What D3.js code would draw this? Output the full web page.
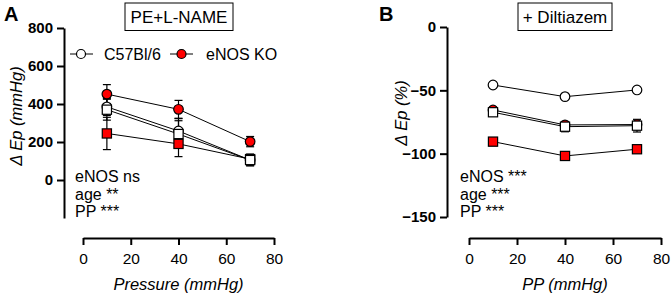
<!DOCTYPE html>
<html>
<head>
<meta charset="utf-8">
<script src="https://cdn.jsdelivr.net/npm/d3@7"></script>
<style>
  body { margin: 0; background: #fff; }
  svg { font-family: "Liberation Sans", Arial, sans-serif; }
  .line { fill: none; stroke: #000; stroke-width: 1; }
  .err { stroke: #000; stroke-width: 1.2; }
</style>
</head>
<body>
<div id="chart"></div>
<script>
// x positions (pressure, mmHg)
var pressures = [10, 40, 70];

// panel A: delta Ep (mmHg), PE + L-NAME
var a_c57_circle = [385, 258, 105];
var a_c57_circle_err = [45, 65, 30];
var a_c57_square = [370, 242, 105];
var a_c57_square_err = [55, 70, 30];
var a_ko_circle = [452, 372, 202];
var a_ko_circle_err = [50, 47, 27];
var a_ko_square = [245, 190, 110];
var a_ko_square_err = [85, 67, 25];

// panel B: delta Ep (%), + diltiazem
var b_c57_circle = [-45.8, -55, -49.7];
var b_c57_circle_err = [1.5, 1.5, 1.5];
var b_c57_square = [-67.3, -78.7, -77.9];
var b_c57_square_err = [2.5, 4, 5];
var b_ko_circle = [-65.5, -77.3, -77];
var b_ko_circle_err = [2, 2, 2];
var b_ko_square = [-90.5, -101.8, -96.5];
var b_ko_square_err = [2, 2, 2];

var xTicks = [0, 20, 40, 60, 80];
var aYTicks = [0, 200, 400, 600, 800];
var bYTicks = [-150, -100, -50, 0];
var legendLabels = ["C57Bl/6", "eNOS KO"];
var aStats = ["eNOS ns", "age **", "PP ***"];
var bStats = ["eNOS ***", "age ***", "PP ***"];

var svg = d3.select("#chart").append("svg")
    .attr("width", 671)
    .attr("height", 298);

function draw_panel(p) {
    var x = d3.scaleLinear().domain([0, 80]).range(p.xRange);
    var y = d3.scaleLinear().domain(p.yDomain).range(p.yRange);
    var g = svg.append("g");

    // y axis
    var y_axis = d3.axisLeft(y).tickValues(p.yTicks).tickSize(7).tickPadding(4).tickSizeOuter(0);
    var ya = g.append("g")
        .attr("transform", "translate(" + p.yAxisX + ",0)")
        .call(y_axis);
    ya.select(".domain").attr("stroke-width", 2);
    ya.selectAll(".tick line").attr("stroke-width", 2);
    ya.selectAll("text")
        .attr("font-family", "Liberation Sans, Arial, sans-serif")
        .attr("font-size", 15)
        .attr("font-weight", "bold")
        .attr("fill", "#000");

    // x axis, detached below
    var x_axis = d3.axisBottom(x).tickValues(xTicks).tickSize(7).tickPadding(8).tickSizeOuter(0);
    var xa = g.append("g")
        .attr("transform", "translate(0," + p.xAxisY + ")")
        .call(x_axis);
    xa.select(".domain").attr("stroke-width", 2);
    xa.selectAll(".tick line").attr("stroke-width", 2);
    xa.selectAll("text")
        .attr("font-family", "Liberation Sans, Arial, sans-serif")
        .attr("font-size", 15.5)
        .attr("fill", "#000");

    // axis labels
    g.append("text")
        .attr("x", (p.xRange[0] + p.xRange[1]) / 2)
        .attr("y", 290)
        .attr("text-anchor", "middle")
        .attr("font-size", 16.5)
        .attr("font-style", "italic")
        .text(p.xLabel);

    g.append("text")
        .attr("transform", "translate(" + p.yLabelX + "," + p.yLabelY + ") rotate(-90)")
        .attr("text-anchor", "middle")
        .attr("font-size", 16.5)
        .attr("font-style", "italic")
        .text(p.yLabel);

    // panel letter
    g.append("text")
        .attr("x", p.letterX)
        .attr("y", 21)
        .attr("font-size", 20)
        .attr("font-weight", "bold")
        .text(p.letter);

    // title box
    g.append("rect")
        .attr("x", p.box[0]).attr("y", 3)
        .attr("width", p.box[1] - p.box[0]).attr("height", 27.5)
        .attr("fill", "#fff").attr("stroke", "#000").attr("stroke-width", 1);
    g.append("text")
        .attr("x", (p.box[0] + p.box[1]) / 2)
        .attr("y", 23)
        .attr("text-anchor", "middle")
        .attr("font-size", 17)
        .text(p.title);

    // lines
    var line = d3.line()
        .x(function(d, i) { return x(pressures[i]); })
        .y(function(d) { return y(d); });

    p.series.forEach(function(s) {
        g.append("path").attr("class", "line").attr("d", line(s.values));
    });

    // error bars
    p.series.forEach(function(s) {
        s.values.forEach(function(v, i) {
            var cx = x(pressures[i]);
            var e = s.err[i];
            g.append("line").attr("class", "err")
                .attr("x1", cx).attr("x2", cx)
                .attr("y1", y(v - e)).attr("y2", y(v + e));
            [v - e, v + e].forEach(function(c) {
                g.append("line").attr("class", "err")
                    .attr("x1", cx - 4).attr("x2", cx + 4)
                    .attr("y1", y(c)).attr("y2", y(c));
            });
        });
    });

    // markers
    p.series.forEach(function(s) {
        s.values.forEach(function(v, i) {
            var cx = x(pressures[i]), cy = y(v);
            if (s.shape == "circle") {
                g.append("circle")
                    .attr("cx", cx).attr("cy", cy).attr("r", 4.8)
                    .attr("fill", s.color).attr("stroke", "#000").attr("stroke-width", 1.2);
            } else {
                g.append("rect")
                    .attr("x", cx - 4.6).attr("y", cy - 4.6)
                    .attr("width", 9.2).attr("height", 9.2)
                    .attr("fill", s.color).attr("stroke", "#000").attr("stroke-width", 1.2);
            }
        });
    });

    // stats
    p.stats.forEach(function(t, i) {
        g.append("text")
            .attr("x", p.statsX)
            .attr("y", 182 + i * 17.5)
            .attr("font-size", 16)
            .text(t);
    });

    return g;
}

draw_panel({
    letter: "A", letterX: 4,
    title: "PE+L-NAME", box: [125, 233],
    xRange: [83, 274], xAxisY: 238, yAxisX: 64,
    yDomain: [-200, 800], yRange: [218, 28], yTicks: aYTicks,
    xLabel: "Pressure (mmHg)",
    yLabel: "\u0394 Ep (mmHg)", yLabelX: 22, yLabelY: 116,
    stats: aStats, statsX: 75,
    series: [
        { values: a_ko_circle, err: a_ko_circle_err, shape: "circle", color: "#ff0000" },
        { values: a_ko_square, err: a_ko_square_err, shape: "square", color: "#ff0000" },
        { values: a_c57_circle, err: a_c57_circle_err, shape: "circle", color: "#fff" },
        { values: a_c57_square, err: a_c57_square_err, shape: "square", color: "#fff" }
    ]
});

draw_panel({
    letter: "B", letterX: 379,
    title: "+ Diltiazem", box: [518, 612],
    xRange: [469, 661], xAxisY: 238, yAxisX: 447,
    yDomain: [-150, 0], yRange: [217, 27], yTicks: bYTicks,
    xLabel: "PP (mmHg)",
    yLabel: "\u0394 Ep (%)", yLabelX: 407, yLabelY: 113,
    stats: bStats, statsX: 460,
    series: [
        { values: b_ko_circle, err: b_ko_circle_err, shape: "circle", color: "#ff0000" },
        { values: b_ko_square, err: b_ko_square_err, shape: "square", color: "#ff0000" },
        { values: b_c57_circle, err: b_c57_circle_err, shape: "circle", color: "#fff" },
        { values: b_c57_square, err: b_c57_square_err, shape: "square", color: "#fff" }
    ]
});

// legend (panel A)
var legend = svg.append("g");
var legendItems = [
    { label: legendLabels[0], color: "#fff", x1: 70, x2: 93, cx: 81, tx: 104 },
    { label: legendLabels[1], color: "#ff0000", x1: 170, x2: 193, cx: 181.5, tx: 206 }
];
legendItems.forEach(function(d) {
    legend.append("line")
        .attr("x1", d.x1).attr("x2", d.x2).attr("y1", 54).attr("y2", 54)
        .attr("stroke", "#000").attr("stroke-width", 1);
    legend.append("circle")
        .attr("cx", d.cx).attr("cy", 54).attr("r", 4.5)
        .attr("fill", d.color).attr("stroke", "#000").attr("stroke-width", 1.2);
    legend.append("text")
        .attr("x", d.tx).attr("y", 59.5)
        .attr("font-size", 16)
        .text(d.label);
});
</script>
</body>
</html>
